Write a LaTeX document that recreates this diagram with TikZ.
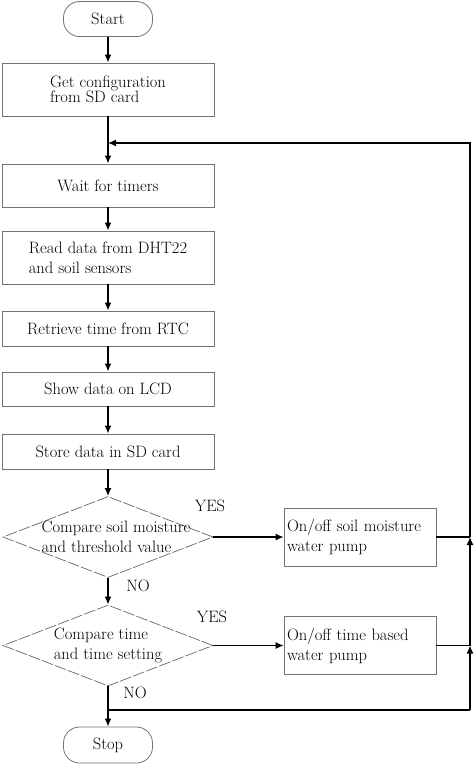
\documentclass[tikz,border=0pt]{standalone}
\usetikzlibrary{arrows,arrows.meta,positioning,shapes}
\begin{document}
\begin{tikzpicture}[x=1pt,y=-1pt,>={Latex[length=8pt,width=7pt]},font=\fontsize{16.5}{20}\selectfont,
	terminal/.style={draw=black!55,line width=0.8pt,rounded corners=16pt,minimum width=89pt,minimum height=35pt,inner sep=0pt},
	process/.style={draw=black!55,line width=0.8pt,minimum width=212pt,inner sep=0pt},
	decision/.style={draw=black!60,line width=0.7pt,dash pattern=on 12pt off 2pt,diamond,minimum width=210pt,minimum height=81pt,inner sep=0pt},
	pump/.style={draw=black!55,line width=0.8pt,text width=146pt,inner xsep=3pt,inner ysep=0pt,align=left,minimum height=58pt},
	flow/.style={->,line width=1.6pt},
	ret/.style={line width=1.2pt}]
		\useasboundingbox (0,0) rectangle (474,764);
		\node[terminal] (start) at (108,19) {Start};
		\node[process,minimum height=53pt,align=left,font=\fontsize{16.5}{15}\selectfont] (config) at (108,89.5) {Get configuration\\from SD card};
		\node[process,minimum height=43pt] (wait) at (108,185.5) {Wait for timers};
		\node[process,minimum height=53pt,align=left] (read) at (108,257.5) {Read data from DHT22\\and soil sensors};
		\node[process,minimum height=35pt] (rtc) at (108,328.5) {Retrieve time from RTC};
		\node[process,minimum height=34pt] (lcd) at (108,389) {Show data on LCD};
		\node[process,minimum height=35pt] (store) at (108,451.5) {Store data in SD card};
		\node[decision,label={[align=left,xshift=8pt]center:{Compare soil moisture\\and threshold value}}] (moist) at (108,537) {};
		\node[decision,label={[align=left]center:{Compare time\\and time setting}}] (timecmp) at (108,645.5) {};
		\node[pump] (pumpm) at (360,537) {On/off soil moisture\\water pump};
		\node[pump] (pumpt) at (360,645.5) {On/off time based\\water pump};
		\node[terminal,minimum height=36pt] (stop) at (108,745) {Stop};
		% YES / NO
		\node (yes1) at (210,506) {YES};
		\node (no1) at (138,586) {NO};
		\node (yes2) at (212,617) {YES};
		\node (no2) at (135,693) {NO};
		% return line
		\coordinate (rtop) at (470,143);
		\coordinate (rbot) at (470,710);
		\coordinate (rmoist) at (pumpm.east -| rtop);
		\coordinate (rtime) at (pumpt.east -| rtop);
		\coordinate (jtop) at (config.south |- rtop);
		\coordinate (jbot) at (timecmp.south |- rbot);
		\draw[flow] (start) -- (config);
		\draw[flow] (config) -- (wait);
		\draw[flow] (wait) -- (read);
		\draw[flow] (read) -- (rtc);
		\draw[flow] (rtc) -- (lcd);
		\draw[flow] (lcd) -- (store);
		\draw[flow] (store) -- (moist);
		\draw[flow] (moist) -- (timecmp);
		\draw[flow] (timecmp) -- (stop);
		\draw[->,ret] (moist) -- (pumpm);
		\draw[->,ret] (timecmp) -- (pumpt);
		\draw[ret] (pumpm) -- (rmoist);
		\draw[ret] (pumpt) -- (rtime);
		\draw[ret] (jbot) -- (rbot);
		\draw[->,ret] (rbot) -- (rtime);
		\draw[->,ret] (rtime) -- (rmoist);
		\draw[->,ret] (rmoist) -- (rtop) -- (jtop);
\end{tikzpicture}
\end{document}
